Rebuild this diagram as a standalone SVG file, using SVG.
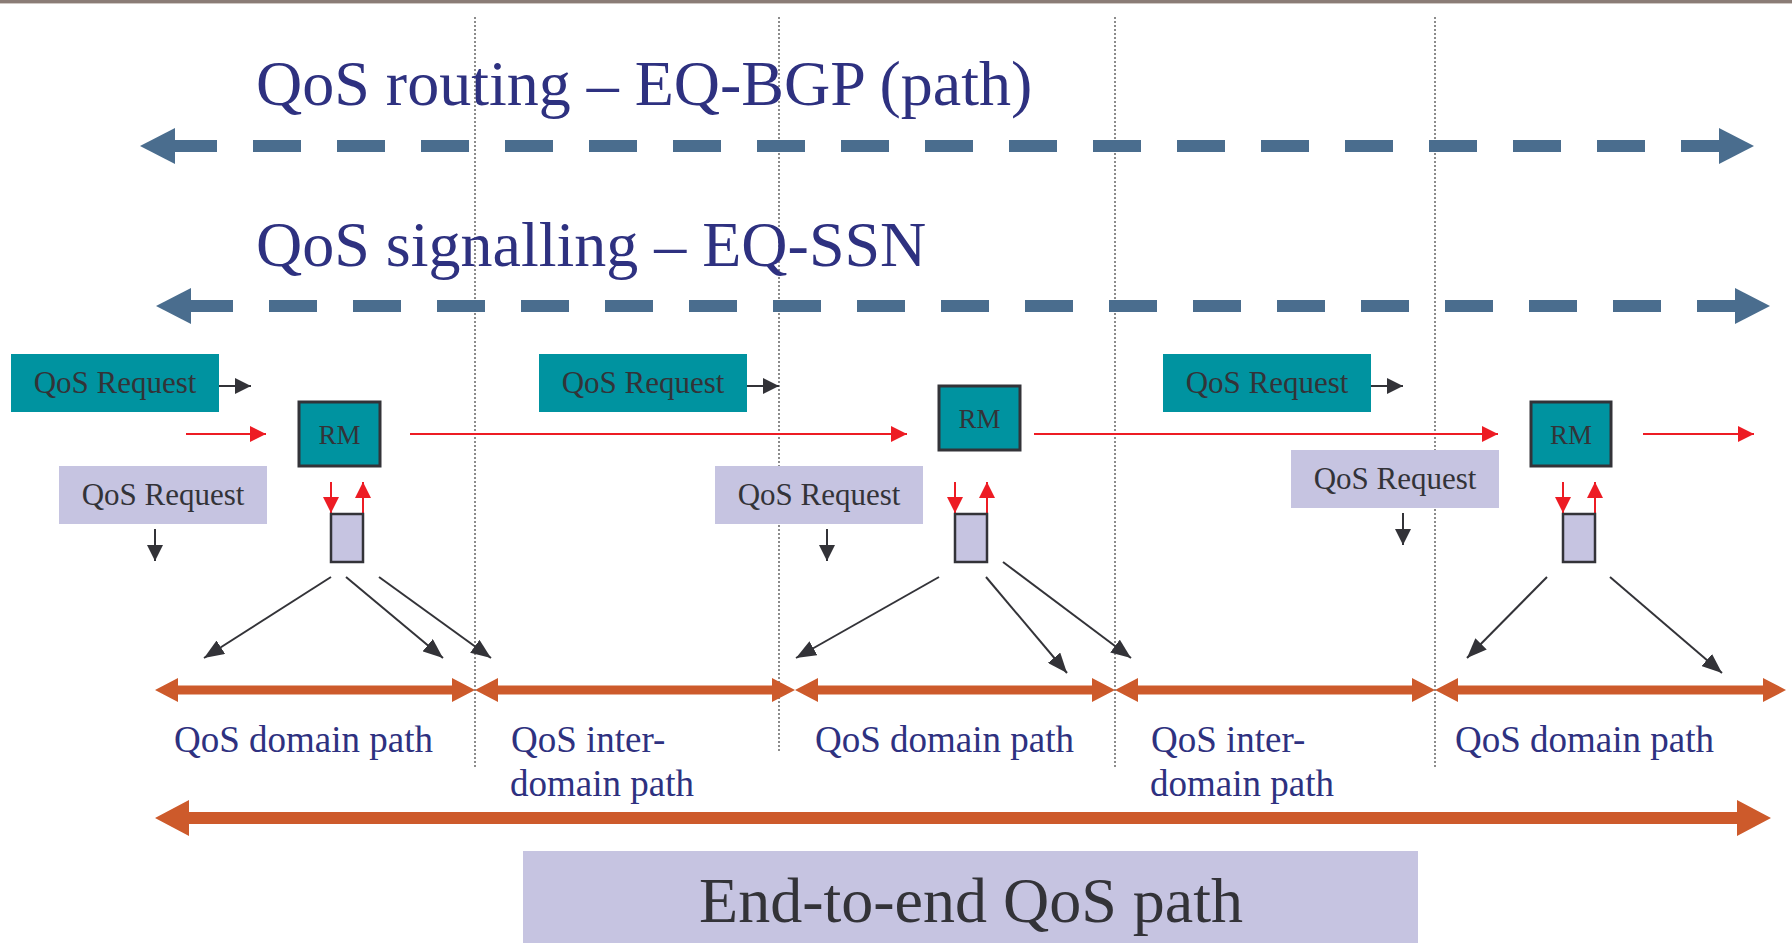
<svg xmlns="http://www.w3.org/2000/svg" width="1792" height="943" viewBox="0 0 1792 943">
  <style>
    .title { font-family: "Liberation Serif", "Times New Roman", serif; font-size: 64px; fill: #2e3180; }
    .req { font-family: "Liberation Serif", "Times New Roman", serif; font-size: 31px; fill: #333338; text-anchor: middle; }
    .rm { font-family: "Liberation Serif", "Times New Roman", serif; font-size: 27px; fill: #333338; text-anchor: middle; }
    .seg { font-family: "Liberation Serif", "Times New Roman", serif; font-size: 37px; fill: #2e3180; }
    .e2e { font-family: "Liberation Serif", "Times New Roman", serif; font-size: 64px; fill: #333338; text-anchor: middle; }
    .teal { fill: #0093a0; }
    .lav { fill: #c6c4e1; }
    .rmbox { fill: #0093a0; stroke: #333338; stroke-width: 3; }
    .store { fill: #c6c4e1; stroke: #333338; stroke-width: 2.5; }
    .divider { stroke: #666; stroke-width: 1.5; stroke-dasharray: 2 2; fill: none; }
    .blue { stroke: #4a6d8e; stroke-width: 12; stroke-dasharray: 48 36; stroke-dashoffset: 6; fill: none; }
    .bluehead { fill: #4a6d8e; }
    .orange { fill: #cd5a2b; }
    .red { stroke: #ed1c24; stroke-width: 2; fill: none; }
    .dark { stroke: #333338; stroke-width: 2; fill: none; }
  </style>
  <defs>
    <marker id="redHead" viewBox="0 0 16 16" refX="16" refY="8" markerWidth="16" markerHeight="16" markerUnits="userSpaceOnUse" orient="auto">
      <path d="M0,0 L16,8 L0,16 Z" fill="#ed1c24"/>
    </marker>
    <marker id="darkHead" viewBox="0 0 16 16" refX="16" refY="8" markerWidth="16" markerHeight="16" markerUnits="userSpaceOnUse" orient="auto">
      <path d="M0,0 L16,8 L0,16 Z" fill="#333338"/>
    </marker>
    <marker id="diagHead" viewBox="0 0 20 16" refX="20" refY="8" markerWidth="20" markerHeight="16" markerUnits="userSpaceOnUse" orient="auto">
      <path d="M0,0 L20,8 L0,16 Z" fill="#333338"/>
    </marker>
  </defs>

  <rect width="1792" height="943" fill="#ffffff"/>
  <!-- top rule -->
  <rect x="0" y="0" width="1792" height="3" fill="#8a7c76"/>
  <rect x="0" y="3" width="1792" height="1" fill="#cfc8c4"/>

  <!-- domain dividers -->
  <g id="dividers">
    <line class="divider" x1="475" y1="17" x2="475" y2="767"/>
    <line class="divider" x1="779" y1="17" x2="779" y2="752"/>
    <line class="divider" x1="1115" y1="17" x2="1115" y2="767"/>
    <line class="divider" x1="1435" y1="17" x2="1435" y2="767"/>
  </g>

  <!-- protocol headings -->
  <text class="title" x="256" y="105">QoS routing – EQ-BGP (path)</text>
  <text class="title" x="256" y="266">QoS signalling – EQ-SSN</text>

  <g id="connectors">
    <!-- EQ-BGP span -->
    <line class="blue" x1="175" y1="146" x2="1719" y2="146"/>
    <polygon class="bluehead" points="140,146 175,128 175,164"/>
    <polygon class="bluehead" points="1754,146 1719,128 1719,164"/>
    <!-- EQ-SSN span -->
    <line class="blue" x1="191" y1="306" x2="1735" y2="306"/>
    <polygon class="bluehead" points="156,306 191,288 191,324"/>
    <polygon class="bluehead" points="1770,306 1735,288 1735,324"/>

    <!-- request hand-offs -->
    <line class="dark" x1="219" y1="386" x2="251" y2="386" marker-end="url(#darkHead)"/>
    <line class="dark" x1="747" y1="386" x2="779" y2="386" marker-end="url(#darkHead)"/>
    <line class="dark" x1="1371" y1="386" x2="1403" y2="386" marker-end="url(#darkHead)"/>

    <!-- signalling chain between resource managers -->
    <line class="red" x1="186" y1="434" x2="266" y2="434" marker-end="url(#redHead)"/>
    <line class="red" x1="410" y1="434" x2="907" y2="434" marker-end="url(#redHead)"/>
    <line class="red" x1="1034" y1="434" x2="1498" y2="434" marker-end="url(#redHead)"/>
    <line class="red" x1="1643" y1="434" x2="1754" y2="434" marker-end="url(#redHead)"/>

    <!-- RM to local store -->
    <line class="red" x1="331" y1="482" x2="331" y2="513" marker-end="url(#redHead)"/>
    <line class="red" x1="363" y1="514" x2="363" y2="482" marker-end="url(#redHead)"/>
    <line class="red" x1="955" y1="482" x2="955" y2="513" marker-end="url(#redHead)"/>
    <line class="red" x1="987" y1="514" x2="987" y2="482" marker-end="url(#redHead)"/>
    <line class="red" x1="1563" y1="482" x2="1563" y2="513" marker-end="url(#redHead)"/>
    <line class="red" x1="1595" y1="514" x2="1595" y2="482" marker-end="url(#redHead)"/>

    <!-- downward request arrows -->
    <line class="dark" x1="155" y1="529" x2="155" y2="561" marker-end="url(#darkHead)"/>
    <line class="dark" x1="827" y1="529" x2="827" y2="561" marker-end="url(#darkHead)"/>
    <line class="dark" x1="1403" y1="513" x2="1403" y2="545" marker-end="url(#darkHead)"/>

    <!-- path selection arrows -->
    <line class="dark" x1="331" y1="577" x2="204" y2="658" marker-end="url(#diagHead)"/>
    <line class="dark" x1="346" y1="577" x2="443" y2="658" marker-end="url(#diagHead)"/>
    <line class="dark" x1="379" y1="577" x2="491" y2="658" marker-end="url(#diagHead)"/>
    <line class="dark" x1="939" y1="577" x2="796" y2="658" marker-end="url(#diagHead)"/>
    <line class="dark" x1="986" y1="577" x2="1067" y2="673" marker-end="url(#diagHead)"/>
    <line class="dark" x1="1003" y1="562" x2="1131" y2="658" marker-end="url(#diagHead)"/>
    <line class="dark" x1="1547" y1="577" x2="1467" y2="658" marker-end="url(#diagHead)"/>
    <line class="dark" x1="1610" y1="577" x2="1722" y2="673" marker-end="url(#diagHead)"/>

    <!-- per-segment paths -->
    <g id="segments" class="orange">
      <polygon points="155,690 178,678 178,685.5 452,685.5 452,678 475,690 452,702 452,694.5 178,694.5 178,702"/>
      <polygon points="475,690 498,678 498,685.5 772,685.5 772,678 795,690 772,702 772,694.5 498,694.5 498,702"/>
      <polygon points="795,690 818,678 818,685.5 1092,685.5 1092,678 1115,690 1092,702 1092,694.5 818,694.5 818,702"/>
      <polygon points="1115,690 1138,678 1138,685.5 1412,685.5 1412,678 1435,690 1412,702 1412,694.5 1138,694.5 1138,702"/>
      <polygon points="1435,690 1458,678 1458,685.5 1763,685.5 1763,678 1786,690 1763,702 1763,694.5 1458,694.5 1458,702"/>
    </g>
    <!-- end-to-end path -->
    <polygon class="orange" points="155,818 189,800 189,812 1737,812 1737,800 1771,818 1737,836 1737,824 189,824 189,836"/>
  </g>

  <!-- domain 1 -->
  <g id="req-a1">
    <rect class="teal" x="11" y="354" width="208" height="58"/>
    <text class="req" x="115" y="393">QoS Request</text>
  </g>
  <g id="rm-1">
    <rect class="rmbox" x="299" y="402" width="81" height="64"/>
    <text class="rm" x="339.5" y="444">RM</text>
  </g>
  <g id="req-b1">
    <rect class="lav" x="59" y="466" width="208" height="58"/>
    <text class="req" x="163" y="505">QoS Request</text>
  </g>
  <g id="store-1">
    <rect class="store" x="331" y="514" width="32" height="48"/>
  </g>

  <!-- domain 2 -->
  <g id="req-a2">
    <rect class="teal" x="539" y="354" width="208" height="58"/>
    <text class="req" x="643" y="393">QoS Request</text>
  </g>
  <g id="rm-2">
    <rect class="rmbox" x="939" y="386" width="81" height="64"/>
    <text class="rm" x="979.5" y="428">RM</text>
  </g>
  <g id="req-b2">
    <rect class="lav" x="715" y="466" width="208" height="58"/>
    <text class="req" x="819" y="505">QoS Request</text>
  </g>
  <g id="store-2">
    <rect class="store" x="955" y="514" width="32" height="48"/>
  </g>

  <!-- domain 3 -->
  <g id="req-a3">
    <rect class="teal" x="1163" y="354" width="208" height="58"/>
    <text class="req" x="1267" y="393">QoS Request</text>
  </g>
  <g id="rm-3">
    <rect class="rmbox" x="1531" y="402" width="80" height="64"/>
    <text class="rm" x="1571" y="444">RM</text>
  </g>
  <g id="req-b3">
    <rect class="lav" x="1291" y="450" width="208" height="58"/>
    <text class="req" x="1395" y="489">QoS Request</text>
  </g>
  <g id="store-3">
    <rect class="store" x="1563" y="514" width="32" height="48"/>
  </g>

  <!-- segment labels -->
  <g id="labels">
    <text class="seg" x="174" y="752">QoS domain path</text>
    <text class="seg" x="511" y="752">QoS inter-</text>
    <text class="seg" x="510" y="796">domain path</text>
    <text class="seg" x="815" y="752">QoS domain path</text>
    <text class="seg" x="1151" y="752">QoS inter-</text>
    <text class="seg" x="1150" y="796">domain path</text>
    <text class="seg" x="1455" y="752">QoS domain path</text>
  </g>

  <g id="end-to-end">
    <rect class="lav" x="523" y="851" width="895" height="92"/>
    <text class="e2e" x="971" y="922">End-to-end QoS path</text>
  </g>
</svg>
